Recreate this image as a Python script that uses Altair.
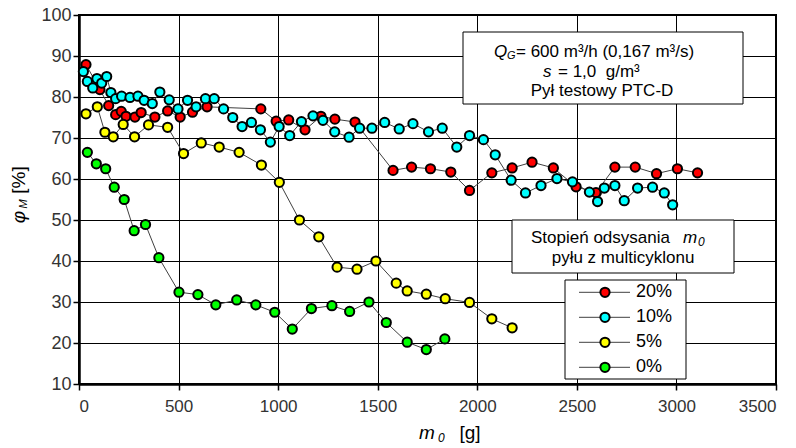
import altair as alt
import pandas as pd

series_names = ["20%", "10%", "5%", "0%"]
series_colors = ["#FF0000", "#00FFFF", "#FFFF00", "#00FF00"]

m20 = [35, 105, 149, 184, 212, 236, 281, 312, 381, 445, 508, 570, 643, 913, 990, 1053, 1135, 1215, 1285, 1386,
       1577, 1670, 1765, 1867, 1961, 2073, 2175, 2275, 2382, 2496, 2596, 2691, 2793, 2900, 3005, 3106]
phi20 = [87.9, 81.8, 77.9, 75.7, 76.5, 75.3, 75.1, 76.2, 75.1, 76.6, 75.1, 76.3, 77.6, 77.1, 74.1, 74.4, 72.0, 75.3, 74.6, 73.9,
         62.1, 62.9, 62.5, 61.7, 57.2, 61.5, 62.7, 64.1, 62.7, 58.1, 56.7, 62.9, 62.9, 61.3, 62.5, 61.5]

m10 = [22, 42, 69, 90, 114, 139, 160, 184, 214, 256, 296, 327, 368, 406, 453, 497, 545, 588, 635, 679, 726, 772, 819, 866,
       911, 961, 1005, 1058, 1117, 1175, 1225, 1284, 1356, 1409, 1471, 1535, 1608, 1677, 1755, 1824, 1897, 1961, 2031,
       2090, 2170, 2242, 2320, 2400, 2478, 2563, 2604, 2638, 2691, 2738, 2805, 2880, 2939, 2981]
phi10 = [86.2, 83.8, 82.2, 84.5, 83.4, 85.0, 81.1, 79.6, 80.2, 79.9, 80.2, 79.2, 78.4, 81.2, 79.3, 77.1, 79.2, 77.6, 79.6,
         79.6, 77.1, 75.0, 72.8, 73.8, 72.0, 69.0, 72.8, 70.6, 74.0, 75.4, 74.3, 71.5, 70.2, 72.4, 72.4, 73.8, 72.2, 73.5,
         71.5, 72.4, 67.8, 70.6, 69.6, 65.9, 59.7, 56.6, 58.4, 60.1, 59.3, 56.8, 54.5, 57.8, 58.4, 54.7, 57.8, 58.0, 56.6, 53.7]

m5 = [35, 92, 130, 172, 222, 279, 349, 445, 525, 614, 704, 804, 916, 1006, 1107, 1204, 1296, 1396, 1491, 1593, 1648,
      1744, 1839, 1961, 2073, 2175]
phi5 = [75.9, 77.6, 71.4, 70.3, 73.3, 70.3, 73.2, 72.6, 66.2, 68.8, 67.8, 66.5, 63.4, 59.2, 50.0, 45.9, 38.5, 38.0, 40.0,
        34.6, 32.7, 31.9, 30.8, 29.9, 25.9, 23.7]

m0 = [42, 87, 134, 177, 227, 277, 334, 401, 502, 597, 687, 792, 888, 983, 1071, 1167, 1270, 1359, 1456, 1543, 1648, 1744, 1837]
phi0 = [66.5, 63.7, 62.5, 58.0, 55.0, 47.4, 48.9, 40.8, 32.4, 31.8, 29.3, 30.5, 29.3, 27.5, 23.4, 28.4, 29.1, 27.7, 30.0,
        25.0, 20.2, 18.4, 21.0]

x_ticks = [0, 500, 1000, 1500, 2000, 2500, 3000, 3500]
y_ticks = [10, 20, 30, 40, 50, 60, 70, 80, 90, 100]

rows = []
for name, ms, ps in zip(series_names, [m20, m10, m5, m0], [phi20, phi10, phi5, phi0]):
    for i, (m, p) in enumerate(zip(ms, ps)):
        rows.append({"m": m, "phi": p, "s": name, "idx": i})
df = pd.DataFrame(rows)
legend_df = pd.DataFrame({"s": series_names})
one = pd.DataFrame({"a": [0]})

FONT = "Liberation Sans"

xenc = alt.X("m:Q", scale=alt.Scale(domain=[0, 3500], nice=False, zero=False),
             axis=alt.Axis(values=x_ticks, format="d", title=None, labelPadding=8, tickSize=6, labelFontSize=17))
yenc = alt.Y("phi:Q", scale=alt.Scale(domain=[10, 100], nice=False, zero=False),
             axis=alt.Axis(values=y_ticks, format="d", title=None, labelPadding=2, tickSize=6, labelFontSize=18))
fill_scale = alt.Scale(domain=series_names, range=series_colors)

base = alt.Chart(df)
lines = base.mark_line(color="#404040", strokeWidth=1).encode(
    x=xenc, y=yenc, detail="s:N", order="idx:Q")
points = base.mark_circle(size=85, stroke="black", strokeWidth=2, opacity=1).encode(
    x=xenc, y=yenc, fill=alt.Fill("s:N", scale=fill_scale, legend=None))
main = alt.layer(lines, points)


def txt(text, x, y, size=17, italic=False, align="center", angle=0):
    kw = dict(text=text, font=FONT, fontSize=size, color="black", align=align, baseline="middle")
    if italic:
        kw["fontStyle"] = "italic"
    if angle:
        kw["angle"] = angle
    return alt.Chart(one).mark_text(**kw).encode(x=alt.value(x), y=alt.value(y))


def box(x1, x2, y1, y2):
    return alt.Chart(one).mark_rect(fill="white", stroke="black", strokeWidth=1).encode(
        x=alt.value(x1), x2=alt.value(x2), y=alt.value(y1), y2=alt.value(y2))


# info box
info = alt.layer(
    box(384, 664, 17, 89),
    txt("Q", 415, 37, italic=True, align="left"),
    txt("G", 428, 41, size=11, italic=True, align="left"),
    txt("= 600 m³/h (0,167 m³/s)", 437, 37, align="left"),
    txt("s", 464, 56.5, italic=True, align="left"),
    txt("= 1,0\u00a0\u00a0g/m³", 479, 56.5, align="left"),
    txt("Pył testowy PTC-D", 523, 76),
)

# legend title box
ltitle = alt.layer(
    box(433, 655, 205, 258),
    txt("Stopień odsysania", 452, 223, align="left"),
    txt("m", 604, 223, italic=True, align="left"),
    txt("0", 619, 227, size=12, italic=True, align="left"),
    txt("pyłu z multicyklonu", 544, 243),
)

lscale = alt.Scale(type="point", domain=series_names, range=[277.3, 352.3], padding=0)
lbase = alt.Chart(legend_df)
lrules = lbase.mark_rule(color="#404040", strokeWidth=1).encode(
    x=alt.value(500), x2=alt.value(551), y=alt.Y("s:N", scale=lscale, axis=None))
ldots = lbase.mark_circle(size=85, stroke="black", strokeWidth=2, opacity=1).encode(
    x=alt.value(526), y=alt.Y("s:N", scale=lscale, axis=None),
    fill=alt.Fill("s:N", scale=fill_scale, legend=None))
llabels = lbase.mark_text(align="left", baseline="middle", font=FONT, fontSize=18, color="black").encode(
    x=alt.value(557), y=alt.Y("s:N", scale=lscale, axis=None), text="s:N")
legend = alt.layer(box(486, 607, 265, 364), lrules, ldots, llabels)

# axis titles
titles = alt.layer(
    txt("m", 348, 418, size=19, italic=True),
    txt("0", 359, 423, size=12, italic=True, align="left"),
    txt("[g]", 391, 418, size=19),
    txt("[%]", -60, 165, size=19, angle=270),
    txt("φ", -60, 202, size=19, italic=True, angle=270),
    txt("M", -55, 189, size=11, italic=True, angle=270),
)

chart = alt.layer(main, info, ltitle, legend, titles).resolve_scale(y="independent").properties(
    width=697, height=369,
    autosize=alt.AutoSizeParams(type="none"),
    padding={"left": 79, "top": 15, "right": 20, "bottom": 64},
    background="white",
).configure_view(stroke="black", strokeWidth=2).configure_axis(
    grid=True, gridColor="black", gridWidth=1, gridOpacity=1,
    domainColor="black", domainWidth=2.5, tickColor="black", tickWidth=1.5,
    labelFont=FONT, labelColor="#333333",
)

chart.save("out.html", embed_options={"renderer": "svg", "actions": False})
